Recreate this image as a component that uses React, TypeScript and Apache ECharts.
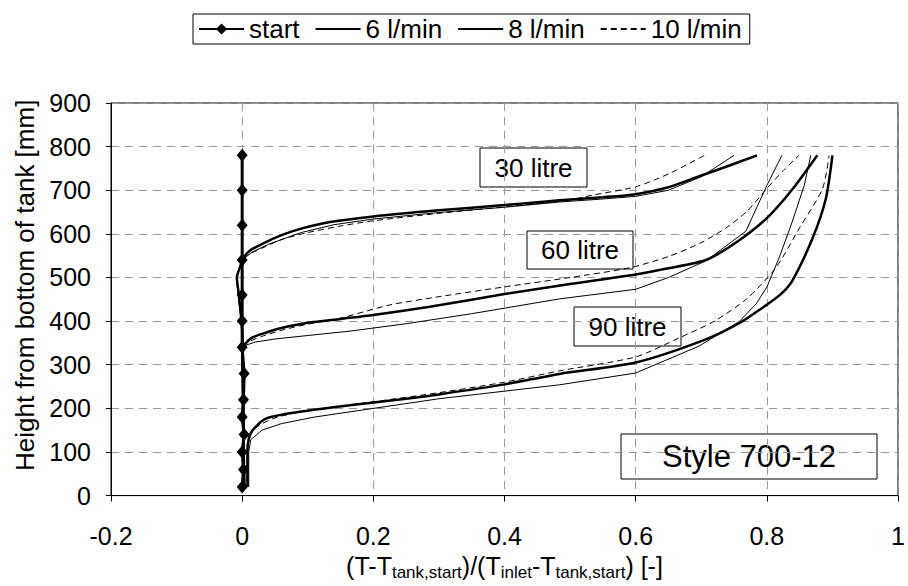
import React, { useEffect, useRef } from "react";
import * as echarts from "echarts";

const FONT = "Liberation Sans, Arial, sans-serif";

// x ticks / y ticks
const X_MIN = -0.2, X_MAX = 1, X_STEP = 0.2;
const Y_MIN = 0, Y_MAX = 900, Y_STEP = 100;

const legendNames = ["start", "6 l/min", "8 l/min", "10 l/min"];

// start profile
const startCurve: [number, number][] = [
  [0, 20], [0.002, 60], [0, 100], [0.003, 140], [0, 180], [0.002, 220], [0.003, 280],
  [0, 340], [0, 400], [0, 460], [0, 540], [0, 620], [0, 700], [0, 780],
];

// 30 litre
const l30_6: [number, number][] = [
  [0.004, 20], [0.003, 140], [0.002, 260], [0, 380], [-0.006, 460], [-0.009, 500], [-0.003, 528],
  [0.004, 545], [0.015, 558], [0.04, 576], [0.09, 603], [0.14, 621], [0.2, 634], [0.3, 649],
  [0.4, 661], [0.484, 673], [0.55, 680], [0.6, 686], [0.65, 700], [0.7, 731], [0.75, 780],
];
const l30_8: [number, number][] = [
  [0.003, 20], [0.002, 140], [0.001, 260], [0, 380], [-0.005, 460], [-0.008, 500], [-0.003, 525],
  [0.002, 545], [0.012, 562], [0.032, 578], [0.06, 597], [0.09, 612], [0.134, 627], [0.2, 640],
  [0.3, 654], [0.4, 666], [0.484, 677], [0.55, 684], [0.6, 691], [0.65, 707], [0.697, 732],
  [0.74, 755], [0.785, 780],
];
const l30_10: [number, number][] = [
  [0.003, 20], [0.002, 140], [0.001, 260], [0, 380], [-0.006, 460], [-0.008, 500], [-0.002, 528],
  [0.002, 542], [0.01, 553], [0.03, 567], [0.06, 587], [0.1, 603], [0.15, 618], [0.2, 630],
  [0.3, 647], [0.4, 662], [0.5, 678], [0.535, 689], [0.6, 708], [0.651, 738], [0.705, 780],
];

// 60 litre
const l60_6: [number, number][] = [
  [0.004, 20], [0.003, 140], [0.002, 260], [0, 320], [0.002, 336], [0.006, 345], [0.02, 352],
  [0.05, 359], [0.1, 367], [0.164, 377], [0.25, 394], [0.35, 417], [0.484, 451], [0.6, 473],
  [0.65, 500], [0.707, 538], [0.768, 606], [0.8, 711], [0.823, 780],
];
const l60_8: [number, number][] = [
  [0.003, 20], [0.002, 140], [0.001, 260], [0, 320], [0.002, 340], [0.006, 350], [0.015, 362],
  [0.037, 374], [0.06, 384], [0.1, 396], [0.15, 405], [0.2, 414], [0.286, 433], [0.4, 462],
  [0.5, 485], [0.6, 507], [0.65, 521], [0.707, 540], [0.753, 580], [0.8, 636], [0.84, 704],
  [0.877, 780],
];
const l60_10: [number, number][] = [
  [0.003, 20], [0.002, 140], [0.001, 260], [0, 320], [0.002, 340], [0.008, 351], [0.03, 365],
  [0.06, 379], [0.1, 393], [0.15, 407], [0.225, 437], [0.3, 456], [0.398, 478], [0.5, 500],
  [0.59, 522], [0.65, 548], [0.7, 580], [0.738, 614], [0.77, 652], [0.8, 704], [0.825, 745],
  [0.849, 780],
];

// 90 litre
const l90_6: [number, number][] = [
  [0.01, 20], [0.01, 100], [0.013, 128], [0.03, 150], [0.06, 165], [0.11, 180], [0.3, 222],
  [0.484, 254], [0.6, 281], [0.697, 343], [0.758, 399], [0.784, 440], [0.8, 478], [0.819, 546],
  [0.839, 629], [0.857, 711], [0.867, 780],
];
const l90_8: [number, number][] = [
  [0.008, 20], [0.008, 100], [0.01, 130], [0.016, 150], [0.037, 177], [0.088, 192], [0.164, 207],
  [0.25, 222], [0.3, 232], [0.4, 255], [0.484, 279], [0.6, 305], [0.707, 358], [0.76, 397],
  [0.789, 426], [0.82, 460], [0.839, 493], [0.87, 591], [0.89, 681], [0.9, 780],
];
const l90_10: [number, number][] = [
  [0.008, 20], [0.008, 100], [0.01, 130], [0.02, 155], [0.05, 178], [0.1, 195], [0.2, 215],
  [0.3, 236], [0.4, 260], [0.484, 286], [0.6, 318], [0.667, 362], [0.72, 400], [0.77, 452],
  [0.814, 523], [0.85, 614], [0.885, 704], [0.895, 780],
];

const thin = [l30_6, l60_6, l90_6];
const thick = [l30_8, l60_8, l90_8];
const dashed = [l30_10, l60_10, l90_10];

const boxLabels = ["30 litre", "60 litre", "90 litre"];

export default function App() {
  const ref = useRef<HTMLDivElement>(null);
  useEffect(() => {
    document.body.style.margin = "0";
    const chart = echarts.init(ref.current!, undefined, { renderer: "svg" });
    const mk = (name: string, data: [number, number][], width: number, type: any, z: number, smooth: number) => ({
      name,
      type: "line",
      data,
      symbol: "none",
      showSymbol: false,
      silent: true,
      smooth,
      z,
      lineStyle: { color: "#000", width, type },
      itemStyle: { color: "#000" },
    });
    const series: any[] = [
      {
        name: "start",
        type: "line",
        data: startCurve,
        symbol: "diamond",
        symbolSize: [11, 13],
        silent: true,
        z: 5,
        lineStyle: { color: "#000", width: 3 },
        itemStyle: { color: "#000" },
      },
      ...thin.map((d) => mk("6 l/min", d, 1, "solid", 3, 0)),
      ...thick.map((d) => mk("8 l/min", d, 2.5, "solid", 4, 0.25)),
      ...dashed.map((d) => mk("10 l/min", d, 1, [6, 4], 3, 0.25)),
    ];

    const box = (x: number, y: number, w: number, h: number, text: string, fs: number) => ({
      type: "group",
      x,
      y,
      z: 100,
      children: [
        { type: "rect", shape: { x: 0, y: 0, width: w, height: h }, style: { fill: "#fff", stroke: "#000", lineWidth: 1 } },
        {
          type: "text",
          x: w / 2,
          y: h / 2,
          style: { text, fill: "#000", font: `${fs}px ${FONT}`, align: "center", verticalAlign: "middle" },
        },
      ],
    });

    const hide = { opacity: 0 };

    chart.setOption({
      animation: false,
      backgroundColor: "#fff",
      grid: { left: 111, right: 10, top: 103, bottom: 84, show: true, borderColor: "#000", borderWidth: 1 },
      legend: {
        data: [
          { name: legendNames[0] },
          { name: legendNames[1], itemStyle: hide },
          { name: legendNames[2], itemStyle: hide },
          { name: legendNames[3], itemStyle: hide },
        ],
        left: 193,
        top: 14,
        itemWidth: 45,
        itemHeight: 14,
        itemGap: 15,
        padding: [2, 8, 2, 5],
        borderColor: "#000",
        borderWidth: 1,
        selectedMode: false,
        textStyle: { fontSize: 26, fontFamily: FONT, color: "#000" },
      },
      xAxis: {
        type: "value",
        min: X_MIN,
        max: X_MAX,
        interval: X_STEP,
        axisLine: { show: true, onZero: false, lineStyle: { color: "#000", width: 1 } },
        axisTick: { show: true, length: 6, lineStyle: { color: "#000" } },
        axisLabel: {
          fontSize: 25,
          fontFamily: FONT,
          color: "#000",
          margin: 28,
          formatter: (v: number) => String(Math.round(v * 10) / 10),
        },
        splitLine: { show: true, lineStyle: { color: "#999", type: [8, 6], width: 1 } },
        name: "{m|(T-T}{s|tank,start}{m|)/(T}{s|inlet}{m|-T}{s|tank,start}{m|) [-]}",
        nameLocation: "middle",
        nameGap: 52,
        nameTextStyle: {
          rich: {
            m: { fontSize: 25, fontFamily: FONT, color: "#000", lineHeight: 30, verticalAlign: "middle" },
            s: { fontSize: 17, fontFamily: FONT, color: "#000", lineHeight: 30, verticalAlign: "bottom" },
          },
        },
      },
      yAxis: [
        {
          type: "value",
          min: Y_MIN,
          max: Y_MAX,
          interval: Y_STEP,
          position: "left",
          axisLine: { show: false },
          axisTick: { show: false },
          axisLabel: { fontSize: 25, fontFamily: FONT, color: "#000", margin: 20 },
          splitLine: { show: true, lineStyle: { color: "#999", type: [8, 6], width: 1 } },
          name: "Height from bottom of tank [mm]",
          nameLocation: "middle",
          nameGap: 72,
          nameTextStyle: { fontSize: 26, fontFamily: FONT, color: "#000", padding: [0, 0, 0, 28] },
        },
        {
          type: "value",
          min: Y_MIN,
          max: Y_MAX,
          interval: Y_STEP,
          position: "left",
          axisLine: { show: true, onZero: true, lineStyle: { color: "#000", width: 1 } },
          axisTick: { show: true, length: 5, lineStyle: { color: "#000" } },
          axisLabel: { show: false },
          splitLine: { show: false },
        },
      ],
      series,
      graphic: [
        box(480, 148, 107, 39, boxLabels[0], 26),
        box(527, 231, 106, 38, boxLabels[1], 26),
        box(574, 307, 107, 39, boxLabels[2], 26),
        box(621, 434, 256, 45, "Style 700-12", 31),
      ],
    });
    return () => chart.dispose();
  }, []);
  return <div ref={ref} style={{ width: 908, height: 586 }} />;
}
